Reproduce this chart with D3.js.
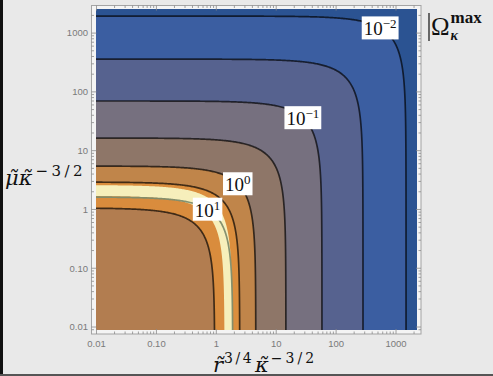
<!DOCTYPE html>
<html>
<head>
<meta charset="utf-8">
<script src="https://cdn.jsdelivr.net/npm/d3@7"></script>
<style>
  html, body { margin: 0; padding: 0; background: #e9e9e9; overflow: hidden; }
  svg { display: block; }
</style>
</head>
<body>
<svg id="chart" width="493" height="376"></svg>
<script>
// Axis extents (log scales) and tick marks
const xDomain = [0.0098, 2240];
const yDomain = [0.0089, 2570];
const tickValues = [0.01, 0.1, 1, 10, 100, 1000];
const tickLabels = ["0.01", "0.10", "1", "10", "100", "1000"];

// Shaded bands: each boundary follows x/X + y/Y = 1 (X, Y = axis intercepts),
// listed from the outermost boundary inwards; the colour fills the inside.
const bandX = [1469, 281, 58, 14.5, 4.56, 2.46, 1.85, 1.37, 0.94];
const bandY = [1945, 361, 70, 16.4, 5.47, 2.92, 2.60, 1.70, 1.06];
const bandColors = ["#2b5392", "#3b5ea1", "#56628f", "#76707f", "#8e7668",
                    "#c0854a", "#db8e3d", "#f6efbb", "#d98c3d", "#b27d50"];

// Contour lines: intercepts and level exponent (|Ω| = 10^level)
const lineX = [1469, 281, 58, 14.5, 4.56, 2.46, 1.88, 0.94];
const lineY = [1945, 361, 70, 16.4, 5.47, 2.92, 1.63, 1.06];
const lineLevel = [-2, -1.5, -1, -0.5, 0, 0.5, 1, 0.5];
const lineStroke = ["#000", "#000", "#000", "#000", "#000", "#000", "#7f8c6c", "#000"];

// Labelled contours (index into the line arrays) and position along each curve
const labelLine = [0, 2, 4, 6];
const labelT = [0.37, 0.48, 0.5, 0.38];

const svg = d3.select("#chart");
const x = d3.scaleLog().domain(xDomain).range([96, 417]);
const y = d3.scaleLog().domain(yDomain).range([330, 9]);
const [px0, px1] = x.range();
const [py0, py1] = y.range();

// edge strips of the frame grab
svg.append("rect").attr("x", 0).attr("y", 0).attr("width", 3).attr("height", 376).attr("fill", "#111");
svg.append("rect").attr("x", 0).attr("y", 374).attr("width", 493).attr("height", 2).attr("fill", "#555");

// frame
svg.append("rect")
  .attr("x", 91.5).attr("y", 5.5).attr("width", 329.5).attr("height", 328.5)
  .attr("fill", "#f4f4f4").attr("stroke", "#a4a4a4").attr("stroke-width", 1);

svg.append("clipPath").attr("id", "plotClip")
  .append("rect").attr("x", px0).attr("y", py1).attr("width", px1 - px0).attr("height", py0 - py1);

const plot = svg.append("g").attr("clip-path", "url(#plotClip)");

// trace x/X + y/Y = 1 in log space, running well past both axes
const sSteps = d3.range(-9, 9.0001, 0.02);
function tracePoints(X, Y) {
  return sSteps.map(s => {
    const e = Math.pow(10, -s);
    const t = 1 / (1 + e), u = e / (1 + e);
    return [x(X * t), y(Y * u)];
  });
}
const lineGen = d3.line().curve(d3.curveLinear);

// outer band fills the whole area, then each boundary fills its inside
plot.append("rect").attr("x", px0).attr("y", py1).attr("width", px1 - px0).attr("height", py0 - py1)
  .attr("fill", bandColors[0]);
bandX.forEach((X, i) => {
  const pts = tracePoints(X, bandY[i]);
  pts.push([-3000, 4000]);
  plot.append("path").attr("d", lineGen(pts) + "Z").attr("fill", bandColors[i + 1]);
});

// contour lines
lineX.forEach((X, i) => {
  plot.append("path").attr("d", lineGen(tracePoints(X, lineY[i])))
    .attr("fill", "none")
    .attr("stroke", lineStroke[i])
    .attr("stroke-opacity", lineStroke[i] === "#000" ? 0.68 : 0.95)
    .attr("stroke-width", 1.7);
});

// frame ticks (major decades and minor 2..9), on all four sides
const minor = [];
for (let d = -3; d <= 3; d++) for (let k = 2; k <= 9; k++) minor.push(k * Math.pow(10, d));
const fx0 = 91.5, fx1 = 421, fy0 = 334, fy1 = 5.5;
const ticks = svg.append("g").attr("stroke", "#8a8a8a").attr("stroke-width", 0.8);
function addTicks(vals, len) {
  vals.filter(v => v >= xDomain[0] && v <= xDomain[1]).forEach(v => {
    const xx = x(v);
    ticks.append("line").attr("x1", xx).attr("x2", xx).attr("y1", fy0).attr("y2", fy0 - len);
    ticks.append("line").attr("x1", xx).attr("x2", xx).attr("y1", fy1).attr("y2", fy1 + len);
  });
  vals.filter(v => v >= yDomain[0] && v <= yDomain[1]).forEach(v => {
    const yy = y(v);
    ticks.append("line").attr("y1", yy).attr("y2", yy).attr("x1", fx0).attr("x2", fx0 + len);
    ticks.append("line").attr("y1", yy).attr("y2", yy).attr("x1", fx1).attr("x2", fx1 - len);
  });
}
addTicks(tickValues, 5);
addTicks(minor, 2.5);

// tick labels
const tickFont = "'Liberation Sans', Arial, sans-serif";
tickValues.forEach((v, i) => {
  svg.append("text").attr("x", x(v)).attr("y", 346.5)
    .attr("text-anchor", "middle").attr("font-family", tickFont).attr("font-size", 9.5)
    .attr("fill", "#7a7a7a").text(tickLabels[i]);
  svg.append("text").attr("x", 88).attr("y", y(v) + 3.4)
    .attr("text-anchor", "end").attr("font-family", tickFont).attr("font-size", 9.5)
    .attr("fill", "#7a7a7a").text(tickLabels[i]);
});

// contour labels: white boxes with 10^level
const serif = "'Liberation Serif', 'Times New Roman', serif";
labelLine.forEach((li, k) => {
  const t = labelT[k];
  const cx = x(lineX[li] * t), cy = y(lineY[li] * (1 - t));
  const g = svg.append("g");
  const rect = g.append("rect").attr("fill", "#fff");
  const txt = g.append("text").attr("font-family", serif).attr("font-size", 19).attr("fill", "#111");
  txt.append("tspan").text("10");
  const lv = lineLevel[li];
  txt.append("tspan").attr("font-size", 13).attr("dy", -7)
    .text(lv < 0 ? "\u2212" + Math.abs(lv) : String(lv));
  const bb = txt.node().getBBox();
  const padX = 2, padY = 0;
  const dx = cx - (bb.x + bb.width / 2), dy = cy - (bb.y + bb.height / 2);
  txt.attr("transform", `translate(${dx},${dy})`);
  rect.attr("x", bb.x + dx - padX).attr("y", bb.y + dy - padY)
    .attr("width", bb.width + 2 * padX).attr("height", bb.height + 2 * padY);
});

// axis titles, tildes as combining marks
const mathFont = "'DejaVu Serif', 'Liberation Serif', serif";
function title(xx, yy) {
  return svg.append("text").attr("x", xx).attr("y", yy)
    .attr("font-family", mathFont).attr("fill", "#111");
}
function part(t, s, size, italic, dy, spacing) {
  const ts = t.append("tspan").attr("font-size", size)
    .attr("font-style", italic ? "italic" : "normal").text(s);
  if (dy) ts.attr("dy", dy);
  if (spacing) ts.attr("letter-spacing", spacing);
  return ts;
}

// y title: μ̃ κ̃^(−3/2)
const yt = title(5, 185);
part(yt, "\u03bc\u0303\u03ba\u0303", 21, true);
part(yt, "\u22123/2", 15, false, -9, 3.5).attr("dx", 3);

// x title: r̃^(3/4) κ̃^(−3/2)
const xt = title(213, 372);
part(xt, "r\u0303", 21, true);
part(xt, "3/4", 14, false, -9, 2.5).attr("dx", 1);
part(xt, "\u03ba\u0303", 21, true, 9).attr("dx", 1);
part(xt, "\u22123/2", 14, false, -9, 3).attr("dx", 2);

// legend title |Ω_κ^max
svg.append("line").attr("x1", 429).attr("x2", 429).attr("y1", 13).attr("y2", 41)
  .attr("stroke", "#222").attr("stroke-width", 1.3);
const lt = svg.append("text").attr("x", 431).attr("y", 35)
  .attr("font-family", "'Liberation Serif', serif").attr("fill", "#111");
lt.append("tspan").attr("font-size", 25).text("\u03a9");
const sup = lt.append("tspan").attr("font-size", 17).attr("font-weight", "bold")
  .attr("dy", -12).attr("dx", 1).text("max");
const supW = sup.node().getComputedTextLength();
lt.append("tspan").attr("font-size", 14).attr("font-style", "italic").attr("font-weight", "bold")
  .attr("dx", -supW).attr("dy", 17).text("\u03ba");
</script>
</body>
</html>
